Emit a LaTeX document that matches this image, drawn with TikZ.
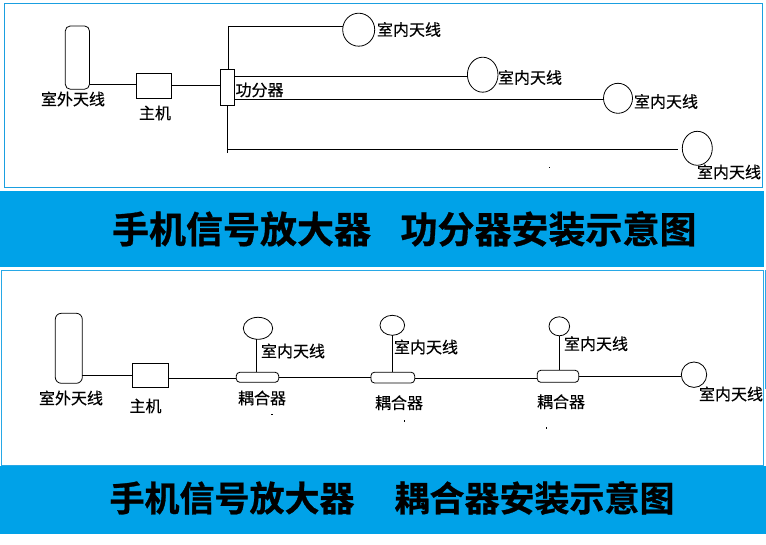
\documentclass[tikz,border=0pt]{standalone}
\usepackage{fontspec}
\setmainfont{Noto Sans CJK SC}
\newfontfamily\labfont[FakeBold=0.35]{Noto Sans CJK SC}
\newfontfamily\titlefont[FakeBold=0.8]{Noto Sans CJK SC Bold}
\usetikzlibrary{shapes.geometric}
\definecolor{bandblue}{HTML}{00A2E8}
\definecolor{framea}{HTML}{1A9FE0}
\definecolor{frameb}{HTML}{27A8E6}
\tikzset{
  wire/.style={draw=black,line width=1.1pt},
  thin outline/.style={draw=black,line width=0.8pt,inner sep=0pt,outer sep=0pt},
  boxnode/.style={thin outline,line width=1pt,rectangle,minimum width=#1},
  boxnode/.default=10pt,
  antennaoval/.style={thin outline,ellipse},
  roundbox/.style={thin outline,rectangle,rounded corners=#1},
  lab/.style={inner sep=0pt,outer sep=0pt,font=\labfont\fontsize{16}{16}\selectfont},
  titlea/.style={inner sep=0pt,outer sep=0pt,font=\titlefont\fontsize{37}{37}\selectfont},
  titleb/.style={inner sep=0pt,outer sep=0pt,font=\titlefont\fontsize{35}{35}\selectfont},
  speck/.style={fill=black,inner sep=0pt,minimum width=1.2pt,minimum height=1.6pt,draw=none},
}
\begin{document}
\begin{tikzpicture}[x=1pt,y=-1pt]
\useasboundingbox (0,0) rectangle (766,545);
% frames and bands
\draw[framea,line width=0.9pt] (4.5,3.5) rectangle (762,187.5);
\fill[bandblue] (0,191) rectangle (764,267);
\draw[frameb,line width=0.9pt] (1.5,270.5) rectangle (763,465);
\draw[frameb,line width=0.9pt] (765,270.5) -- (765,389);
\fill[bandblue] (0,466) rectangle (766,534);
% ---- upper diagram
\node[roundbox=5pt,minimum width=24.2pt,minimum height=63.3pt] (ua) at (77.4,57.6) {};
\node[boxnode,minimum width=35.4pt,minimum height=25.4pt] (uh) at (154,86) {};
\node[boxnode,minimum width=14.2pt,minimum height=36pt] (us) at (227.4,87.3) {};
\node[antennaoval,minimum width=32pt,minimum height=33pt] (u1) at (358.7,29.7) {};
\node[antennaoval,minimum width=30.6pt,minimum height=35pt] (u2) at (482.7,74.7) {};
\node[antennaoval,minimum width=29pt,minimum height=30pt] (u3) at (618,98.3) {};
\node[antennaoval,minimum width=30pt,minimum height=34pt] (u4) at (697.3,148.3) {};
\coordinate (uend) at (227.5,152.7);
\draw[wire] (ua.east |- 0,84.5) -- (uh.west |- 0,84.5);
\draw[wire] (uh.east |- 0,85.5) -- (us.west |- 0,85.5);
\draw[wire] (228.5,69.3) -- (228.5,26.3) -- (u1.west |- 0,26.3);
\draw[wire] (us.east |- 0,76.3) -- (u2.west |- 0,76.3);
\draw[wire] (us.east |- 0,99.3) -- (u3.west |- 0,99.3);
\draw[wire] (uend |- us.south) -- (uend);
\draw[wire] (uend |- 0,149.3) -- (678,149.3);
\node[lab] (tu0) at (73,99) {室外天线};
\node[lab] (tuh) at (155,113) {主机};
\node[lab] (tus) at (259.5,90) {功分器};
\node[lab] (tu1) at (409,29.5) {室内天线};
\node[lab] (tu2) at (530,77.5) {室内天线};
\node[lab] (tu3) at (666,101.5) {室内天线};
\node[lab] (tu4) at (729,172) {室内天线};
\node[speck] (su) at (549.7,167.5) {};
\node[titlea] (ta1) at (241.5,229) {手机信号放大器};
\node[titlea] (ta2) at (548.5,229) {功分器安装示意图};
% ---- lower diagram
\node[roundbox=6pt,minimum width=27pt,minimum height=70pt] (la) at (68.8,348.3) {};
\node[boxnode,minimum width=36.4pt,minimum height=24pt] (lh) at (150.5,375.3) {};
\node[roundbox=3.5pt,minimum width=42.4pt,minimum height=10pt] (c1) at (257.5,377.3) {};
\node[roundbox=3.5pt,minimum width=43.7pt,minimum height=10.7pt] (c2) at (392.8,377.6) {};
\node[roundbox=3.5pt,minimum width=41.4pt,minimum height=12pt] (c3) at (558,376.3) {};
\node[antennaoval,minimum width=29.4pt,minimum height=22pt] (l1) at (258,328.3) {};
\node[antennaoval,minimum width=24.6pt,minimum height=20pt] (l2) at (392.3,325.3) {};
\node[antennaoval,minimum width=20.6pt,minimum height=19pt] (l3) at (559.3,326.3) {};
\node[antennaoval,minimum width=25.4pt,minimum height=25.4pt] (l4) at (694,374.7) {};
\draw[wire] (la.east |- 0,375.3) -- (lh.west |- 0,375.3);
\draw[wire] (lh.east |- 0,378.7) -- (c1.west |- 0,378.7);
\draw[wire] (c1.east |- 0,377.3) -- (c2.west |- 0,377.3);
\draw[wire] (c2.east |- 0,378.7) -- (c3.west |- 0,378.7);
\draw[wire] (c3.east |- 0,376.3) -- (l4.west |- 0,376.3);
\draw[wire] (256.7,339.3) -- (256.7,372.3);
\draw[wire] (l2.south) -- (l2.south |- c2.north);
\draw[wire] (l3.south) -- (l3.south |- c3.north);
\node[lab] (tl0) at (71,398) {室外天线};
\node[lab] (tlh) at (145.5,406) {主机};
\node[lab] (tl1) at (293,351) {室内天线};
\node[lab] (tl2) at (426,347) {室内天线};
\node[lab] (tl3) at (596,343.7) {室内天线};
\node[lab] (tl4) at (731,394) {室内天线};
\node[lab] (tc1) at (262,398) {耦合器};
\node[lab] (tc2) at (399,402.7) {耦合器};
\node[lab] (tc3) at (561,401.7) {耦合器};
\node[speck] (s1) at (272,414.3) {};
\node[speck] (s2) at (404.7,420.7) {};
\node[speck] (s3) at (546.3,427.7) {};
\node[titleb] (tb1) at (232,498) {手机信号放大器};
\node[titleb] (tb2) at (534.5,498) {耦合器安装示意图};
\end{tikzpicture}
\end{document}
